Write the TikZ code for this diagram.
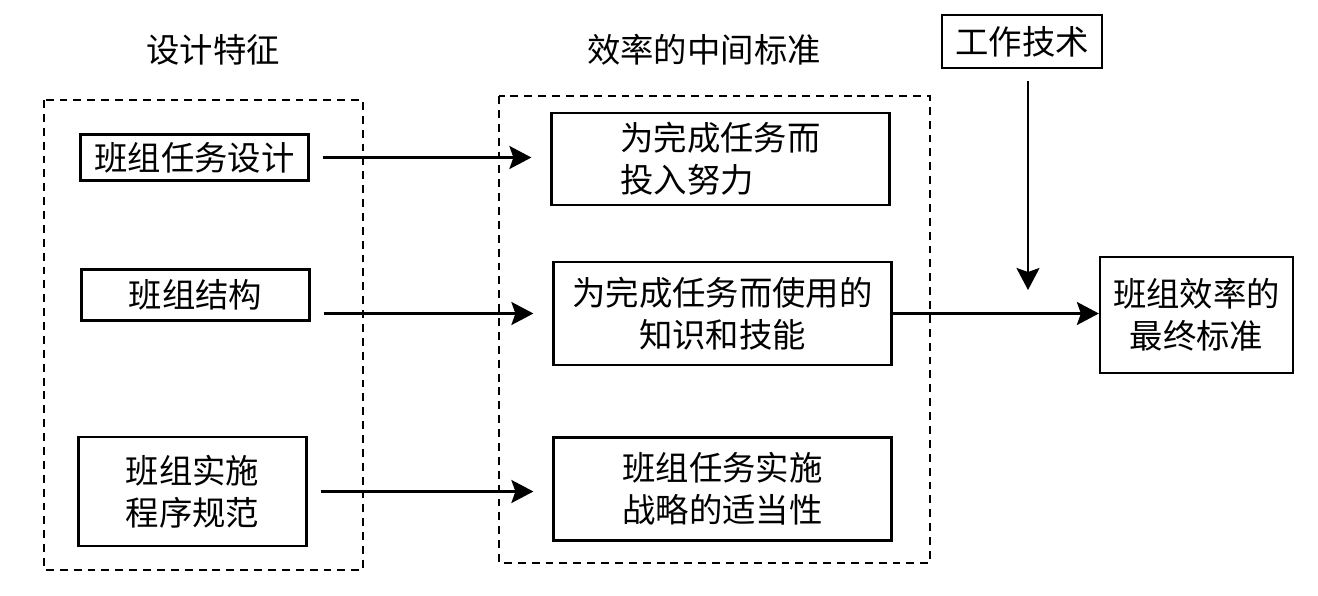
\documentclass[tikz,border=0pt]{standalone}
\usepackage{fontspec}
\setmainfont{Noto Sans CJK SC}
\usetikzlibrary{positioning, arrows.meta}
\tikzset{
feature/.style = {rectangle, draw, line width = 1.3pt, inner sep = 2pt,
   minimum width = 4.56cm, align = center, font = \fontsize{19}{24}\selectfont},
criterion/.style = {feature, minimum width = 6.76cm, minimum height = 2.06cm},
groupframe/.style = {draw, line width = 1pt, dash pattern = on 4.5pt off 3.4pt},
heading/.style = {inner sep = 0pt, font = \fontsize{19}{24}\selectfont},
effect/.style = {-{Stealth[length = 4.4mm, width = 4.6mm, inset = 0.8mm]},
   line width = 1.4pt}
}

\begin{document}
\begin{tikzpicture}[x = 0.02cm, y = -0.02cm]

\useasboundingbox (0,0) rectangle (1318,595);

%% Headings
\node [heading] (featTitle) at (213,50) {设计特征};
\node [heading] (midTitle) at (704,50) {效率的中间标准};

%% Frames
\draw [groupframe] (44,100) rectangle (363,570);
\draw [groupframe] (499,96) rectangle (930,563);

%% Design features
\node [feature, minimum height = 0.92cm] (design) at (194.5,157.5) {班组任务设计};
\node [feature, minimum height = 1.02cm] (structure) at (195.5,295) {班组结构};
\node [feature, minimum height = 2.18cm] (norms) at (192.5,491.5) {班组实施\\程序规范};

%% Intermediate criteria
\node [criterion, minimum height = 1.84cm, align = left] (effort) at (720.5,159)
   {为完成任务而\\投入努力};
\node [criterion] (skill) at (722.5,313.5) {为完成任务而使用的\\知识和技能};
\node [criterion] (strategy) at (722.5,489) {班组任务实施\\战略的适当性};

%% Technology and final criterion
\node [feature, minimum width = 3.2cm, minimum height = 1.06cm] (tech) at (1022,41.5) {工作技术};
\node [feature, minimum width = 3.86cm, minimum height = 2.32cm] (final) at (1196.5,315)
   {班组效率的\\最终标准};
\coordinate (techEnd) at (1028,290);

%% Arrows
\draw [effect, shorten < = 0.26cm, shorten > = 0.38cm] (design.east) -- (effort.west |- design.east);
\draw [effect, shorten < = 0.26cm, shorten > = 0.38cm] (structure.east |- skill.west) -- (skill.west);
\draw [effect, shorten < = 0.26cm, shorten > = 0.38cm] (norms.east) -- (strategy.west |- norms.east);
\draw [effect] (skill.east) -- (final.west |- skill.east);
\draw [effect, shorten < = 0.24cm] (tech.south -| techEnd) -- (techEnd);

\end{tikzpicture}
\end{document}
